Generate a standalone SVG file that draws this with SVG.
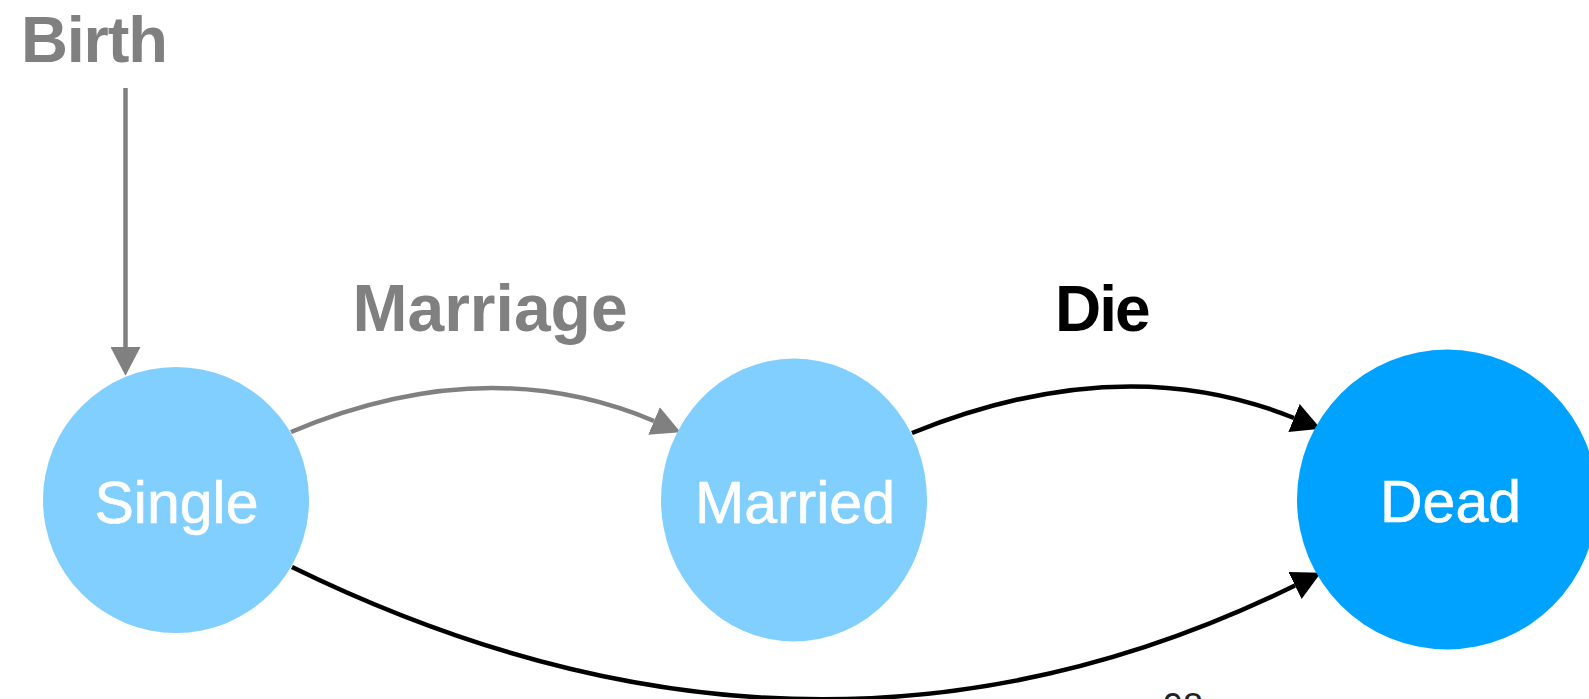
<svg xmlns="http://www.w3.org/2000/svg" width="1589" height="699" viewBox="0 0 1589 699">
  <style>
    .state { fill: #81CFFF; }
    .state-final { fill: #00A2FF; }
    .state-label { font-family: "Liberation Sans", Arial, sans-serif; font-size: 59px; fill: #FFFFFF; stroke: #FFFFFF; stroke-width: 0.6; text-anchor: middle; }
    .event { font-family: "Liberation Sans", Arial, sans-serif; font-weight: bold; }
    .edge { fill: none; stroke-width: 4.5; }
    .gray { stroke: #808080; }
    .black { stroke: #000000; }
    .page { font-family: "Liberation Sans", Arial, sans-serif; font-size: 36px; fill: #222222; }
  </style>
  <defs>
    <marker id="head-gray" markerUnits="userSpaceOnUse" markerWidth="30" markerHeight="30" refX="0" refY="13" orient="auto" viewBox="0 0 26 26">
      <path d="M0,0 L25,13 L0,26 Z" fill="#808080"/>
    </marker>
    <marker id="head-black" markerUnits="userSpaceOnUse" markerWidth="30" markerHeight="30" refX="0" refY="13" orient="auto" viewBox="0 0 26 26">
      <path d="M0,0 L25,13 L0,26 Z" fill="#000000"/>
    </marker>
  </defs>

  <rect width="1589" height="699" fill="#FFFFFF"/>

  <!-- transitions -->
  <g id="connectors">
    <path class="edge gray" d="M125.5,88 L125.5,347" marker-end="url(#head-gray)"/>
    <path class="edge gray" d="M291,432 Q486,350 654,421" marker-end="url(#head-gray)"/>
    <path class="edge black" d="M912,433 Q1122,348 1294,418" marker-end="url(#head-black)"/>
    <path class="edge black" d="M292,567 Q813,822 1295,585.5" marker-end="url(#head-black)"/>
  </g>

  <!-- event labels -->
  <g id="label-birth">
    <text class="event" x="21" y="61.5" font-size="65" letter-spacing="-1.2" fill="#808080">Birth</text>
  </g>
  <g id="label-marriage">
    <text class="event" x="352.5" y="330.5" font-size="66" fill="#808080">Marriage</text>
  </g>
  <g id="label-die">
    <text class="event" x="1055" y="331" font-size="64" letter-spacing="-2" fill="#000000">Die</text>
  </g>

  <!-- states -->
  <g id="node-single">
    <circle class="state" cx="176" cy="500" r="133"/>
    <text class="state-label" x="176.5" y="522.5">Single</text>
  </g>
  <g id="node-married">
    <ellipse class="state" cx="794" cy="500" rx="133" ry="141.5"/>
    <text class="state-label" x="795" y="522.5">Married</text>
  </g>
  <g id="node-dead">
    <circle class="state-final" cx="1447" cy="499.5" r="150"/>
    <text class="state-label" x="1450.5" y="521.5">Dead</text>
  </g>

  <!-- slide number -->
  <text class="page" x="1163" y="718.5">98</text>
</svg>
